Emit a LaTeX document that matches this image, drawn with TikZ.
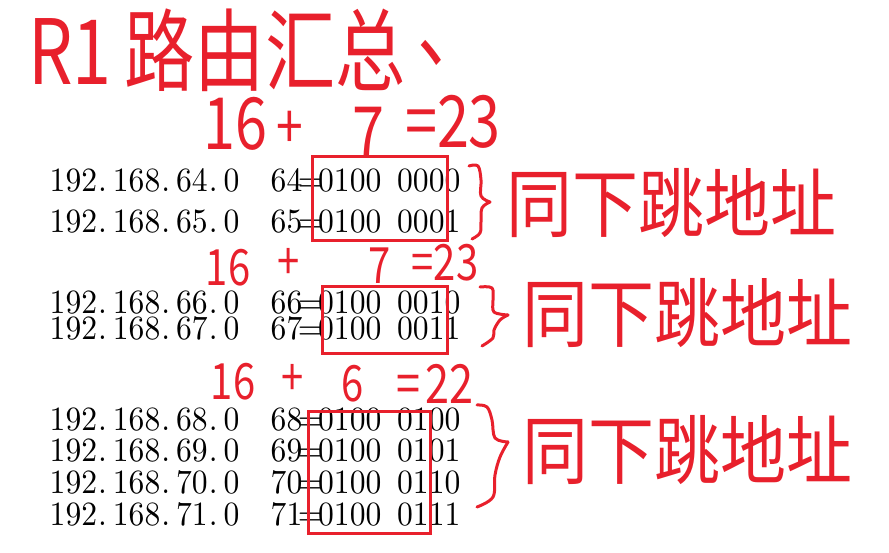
\documentclass[tikz,border=0pt]{standalone}
\usepackage{fontspec}
\newfontfamily\digitfont{lmroman10-regular.otf}[FakeStretch=0.93]
\newfontfamily\handfont{Noto Sans CJK SC}[FakeStretch=0.88]
\newfontfamily\titlefont{Noto Sans CJK SC}[FakeStretch=0.78]
\newfontfamily\eqfont{Noto Sans CJK SC}[FakeStretch=0.8]
\definecolor{inkred}{RGB}{232,32,44}
\newcommand\ipdot{\makebox[15.81pt][l]{\hspace{1pt}.}}
\newcommand\eqcell{\makebox[15.81pt][c]{=}}
\newcommand\gapcell{\hspace{15.81pt}}
\begin{document}
\begin{tikzpicture}[x=1pt,y=-1pt,
  ipline/.style={font=\digitfont\fontsize{34}{40}\selectfont, inner sep=0pt, anchor=base west},
  hand/.style={text=inkred, inner sep=0pt, anchor=center},
  eqbig/.style={hand, font=\eqfont\fontsize{72}{80}\selectfont},
  eqplus/.style={hand, font=\eqfont\fontsize{60}{66}\selectfont},
  eqmid/.style={hand, font=\eqfont\fontsize{50}{56}\selectfont},
  eqsmall/.style={hand, font=\eqfont\fontsize{50}{56}\selectfont},
  note/.style={hand, font=\handfont\fontsize{75}{80}\selectfont},
  redbox/.style={draw=inkred, line width=3pt},
  bracepath/.style={draw=inkred, line width=3pt, line cap=round, line join=round}]
\useasboundingbox (0,0) rectangle (889,553);

% title
\node[hand, anchor=base west, font=\titlefont\fontsize{90}{100}\selectfont] (title) at (28,85) {R1\hspace{13pt}路由汇总\hspace{12pt}\raisebox{24pt}[0pt][0pt]{、}};

% first prefix calculation
\node[eqbig] (e1a) at (235,124) {16};
\node[eqplus] (e1b) at (290,130) {+};
\node[eqbig] (e1c) at (368,133) {7};
\node[eqbig] (e1d) at (453,122) {=23};

% group 1
\node[ipline] (ip64) at (49.5,192) {192\ipdot168\ipdot64\ipdot0};
\node[ipline] (bin64) at (270.5,192) {64\eqcell0100\gapcell0000};
\node[ipline] (ip65) at (49.5,233) {192\ipdot168\ipdot65\ipdot0};
\node[ipline] (bin65) at (270.5,233) {65\eqcell0100\gapcell0001};
\draw[redbox] (312,157) rectangle (447,241);
\draw[bracepath] plot[smooth, tension=0.6] coordinates {(469,166) (478,166) (481,180) (481,196) (490,202)};
\draw[bracepath] plot[smooth, tension=0.6] coordinates {(490,202) (482,208) (481,222) (480,233) (472,239)};
\node[note] (note1) at (671,203) {同下跳地址};

% second prefix calculation
\node[eqmid] (e2a) at (228,268) {16};
\node[eqmid] (e2b) at (289,264) {+};
\node[eqmid] (e2c) at (380,266) {7};
\node[eqmid] (e2d) at (445,263) {=23};

% group 2
\node[ipline] (ip66) at (49.5,313.5) {192\ipdot168\ipdot66\ipdot0};
\node[ipline] (bin66) at (270.5,313.5) {66\eqcell0100\gapcell0010};
\node[ipline] (ip67) at (49.5,339) {192\ipdot168\ipdot67\ipdot0};
\node[ipline] (bin67) at (270.5,339) {67\eqcell0100\gapcell0011};
\draw[redbox] (322,287) rectangle (447,353);
\draw[bracepath] plot[smooth, tension=0.6] coordinates {(480,287) (492,288) (493,300) (494,312) (508,315)};
\draw[bracepath] plot[smooth, tension=0.6] coordinates {(508,315) (500,320) (494,330) (493,338) (482,346)};
\node[note] (note2) at (687,313) {同下跳地址};

% third prefix calculation
\node[eqsmall] (e3a) at (233,382) {16};
\node[eqsmall] (e3b) at (293,380) {+};
\node[eqsmall] (e3c) at (353,384) {6};
\node[hand, font=\eqfont\fontsize{54}{60}\selectfont] (e3d) at (435,384) {=\hspace{5pt}22};

% group 3
\node[ipline] (ip68) at (49.5,430) {192\ipdot168\ipdot68\ipdot0};
\node[ipline] (bin68) at (270.5,430) {68\eqcell0100\gapcell0100};
\node[ipline] (ip69) at (49.5,461) {192\ipdot168\ipdot69\ipdot0};
\node[ipline] (bin69) at (270.5,461) {69\eqcell0100\gapcell0101};
\node[ipline] (ip70) at (49.5,493) {192\ipdot168\ipdot70\ipdot0};
\node[ipline] (bin70) at (270.5,493) {70\eqcell0100\gapcell0110};
\node[ipline] (ip71) at (49.5,525) {192\ipdot168\ipdot71\ipdot0};
\node[ipline] (bin71) at (270.5,525) {71\eqcell0100\gapcell0111};
\draw[redbox] (308,411) rectangle (430,533);
\draw[bracepath] plot[smooth, tension=0.6] coordinates {(477,405) (487,407) (492,420) (495,438) (508,442)};
\draw[bracepath] plot[smooth, tension=0.6] coordinates {(508,442) (500,457) (495,475) (493,497) (477,507)};
\node[note] (note3) at (687,450) {同下跳地址};
\end{tikzpicture}
\end{document}
